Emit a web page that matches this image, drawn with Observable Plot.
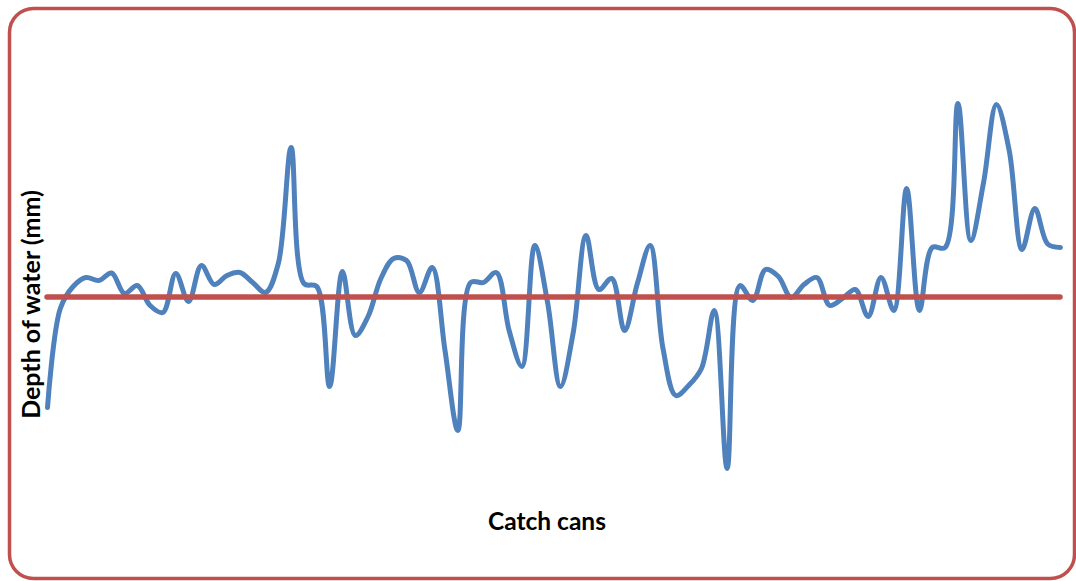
<!DOCTYPE html>
<html>
<head>
<meta charset="utf-8">
<script src="https://cdn.jsdelivr.net/npm/d3@7"></script>
<script src="https://cdn.jsdelivr.net/npm/@observablehq/plot@0.6"></script>
<style>
  html, body { margin: 0; padding: 0; background: #ffffff; }
  #chart svg { display: block; }
</style>
</head>
<body>
<div id="chart"></div>
<script>
// Depth of water collected in each catch can (mm), cans numbered along the line
const depths = [
  8.95, 18.85, 21.05, 21.95, 21.65, 22.4, 20.35, 21.15, 19.15, 18.45,
  22.35, 19.55, 23.15, 21.25, 22.15, 22.45, 21.45, 20.45, 23.35, 34.95,
  21.35, 21.05, 11.05, 22.55, 16.15, 18.05, 21.85, 23.85, 23.65, 20.45,
  22.95, 14.65, 6.65, 21.45, 21.45, 22.45, 16.65, 13.05, 25.15, 19.45,
  11.05, 16.45, 26.15, 20.75, 21.85, 16.65, 21.35, 25.15, 14.85, 10.15,
  11.15, 12.85, 18.65, 2.85, 21.15, 19.65, 22.75, 22.05, 19.95, 21.25,
  21.95, 19.15, 19.85, 20.75, 18.05, 21.95, 18.65, 30.85, 18.65, 24.95,
  24.95, 39.35, 25.65, 31.45, 39.25, 34.65, 24.75, 28.85, 25.3, 24.95
];
const cans = depths.map((_, i) => i + 1);

// Reference depth drawn as a horizontal line across all cans
const referenceDepth = 20;

const xTitle = "Catch cans";
const yTitle = "Depth of water (mm)";

const data = cans.map((can, i) => ({can, depth: depths[i]}));

const blue = "#4F81BD";
const red = "#C0504D";

const chart = Plot.plot({
  width: 1076,
  height: 581,
  marginLeft: 47,
  marginRight: 16,
  marginTop: 46.5,
  marginBottom: 84.5,
  style: {background: "#ffffff", overflow: "visible"},
  x: {domain: [1, cans.length], axis: null},
  y: {domain: [0, 45], axis: null},
  marks: [
    Plot.frame({
      stroke: red,
      strokeWidth: 3.5,
      fill: "none",
      insetLeft: -38,
      insetRight: -14,
      insetTop: -38.5,
      insetBottom: -81.5
    }),
    Plot.line(data, {
      x: "can",
      y: "depth",
      stroke: blue,
      strokeWidth: 5,
      curve: "catmull-rom",
      strokeLinejoin: "round",
      strokeLinecap: "round"
    }),
    Plot.ruleY([referenceDepth], {
      x1: 1,
      x2: cans.length,
      stroke: red,
      strokeWidth: 5.5,
      strokeLinecap: "round"
    }),
    Plot.text([yTitle], {
      frameAnchor: "left",
      textAnchor: "middle",
      lineAnchor: "middle",
      rotate: -90,
      dx: -16,
      dy: 32.5,
      fontSize: 25,
      fontWeight: "bold",
      fontFamily: "Lato",
      fill: "#000000"
    }),
    Plot.text([xTitle], {
      frameAnchor: "bottom",
      textAnchor: "middle",
      lineAnchor: "middle",
      dx: -7,
      dy: 25.5,
      fontSize: 24.5,
      fontWeight: "bold",
      fontFamily: "Lato",
      fill: "#000000"
    })
  ]
});

// round the corners of the outer border
d3.select(chart).selectAll("[aria-label=frame]").each(function () {
  const el = d3.select(this);
  const target = el.node().tagName.toLowerCase() === "rect" ? el : el.select("rect");
  target.attr("rx", 24).attr("ry", 24);
});

document.getElementById("chart").appendChild(chart);
</script>
</body>
</html>
